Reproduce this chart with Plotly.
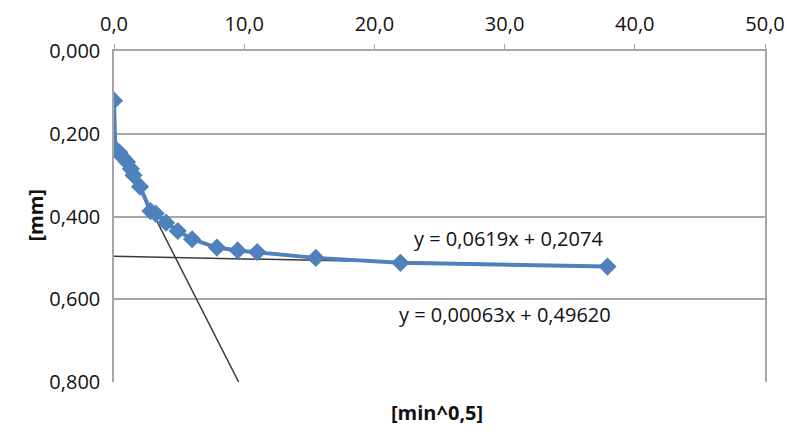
import plotly.graph_objects as go

# Measured data: x = [min^0,5], y = settlement [mm]
x_vals = [0.0, 0.1, 0.4, 0.7, 1.0, 1.3, 1.5, 2.0, 2.8, 3.2, 4.0, 4.9, 6.0, 7.9, 9.5, 11.0, 15.5, 22.0, 37.9]
y_vals = [0.120, 0.238, 0.245, 0.258, 0.268, 0.285, 0.300, 0.328, 0.387, 0.393, 0.415, 0.435, 0.455, 0.475, 0.482, 0.486, 0.500, 0.512, 0.521]

# Trend lines (from the equations shown on the chart)
steep_slope, steep_icpt = 0.0619, 0.2074
flat_slope, flat_icpt = 0.00063, 0.49620
steep_label = "y = 0,0619x + 0,2074"
flat_label = "y = 0,00063x + 0,49620"

x_ticks = [0, 10, 20, 30, 40, 50]
y_ticks = [0.0, 0.2, 0.4, 0.6, 0.8]

FONT = "Open Sans"
TXT = "#111111"
GRID = "#a6a6a6"

steep_x = [0.0, (0.8 - steep_icpt) / steep_slope]
steep_y = [steep_icpt + steep_slope * v for v in steep_x]
flat_x = [0.0, max(x_vals)]
flat_y = [flat_icpt + flat_slope * v for v in flat_x]

fig = go.Figure()
fig.add_trace(go.Scatter(x=steep_x, y=steep_y, mode="lines",
                         line=dict(color="#3a3a3a", width=1.5), showlegend=False))
fig.add_trace(go.Scatter(x=flat_x, y=flat_y, mode="lines",
                         line=dict(color="#3a3a3a", width=1.5), showlegend=False))
fig.add_trace(go.Scatter(x=x_vals, y=y_vals, mode="lines+markers",
                         line=dict(color="#4F81BD", width=4),
                         marker=dict(symbol="diamond", size=14, color="#4F81BD"),
                         showlegend=False))

fig.add_annotation(x=30.3, y=0.452, text=steep_label, showarrow=False,
                   font=dict(family=FONT, size=20, color=TXT))
fig.add_annotation(x=30.0, y=0.638, text=flat_label, showarrow=False,
                   font=dict(family=FONT, size=20, color=TXT))

fig.add_annotation(xref="paper", yref="paper", x=0.496, y=-0.14, text="<b>[min^0,5]</b>",
                   showarrow=False, font=dict(family=FONT, size=20, color=TXT))
fig.add_annotation(xref="paper", yref="paper", x=-0.144, y=0.505, text="<b>[mm]</b>",
                   textangle=-90, showarrow=False, font=dict(family=FONT, size=20, color=TXT))

fig.update_layout(
    width=787, height=441,
    margin=dict(l=114, r=22, t=51, b=59, autoexpand=False),
    paper_bgcolor="white", plot_bgcolor="white",
    separators=",.",
    font=dict(family=FONT, size=20, color=TXT),
    xaxis=dict(side="top", range=[0, 50], tickvals=x_ticks, tickformat=".1f",
               showgrid=False, zeroline=False, showline=True, linecolor=GRID, linewidth=1.5,
               ticks="outside", ticklen=5, tickcolor=GRID, mirror=False, automargin=False,
               ticklabelstandoff=5),
    yaxis=dict(range=[0.8, 0], tickvals=y_ticks, tickformat=".3f",
               showgrid=True, gridcolor=GRID, gridwidth=1.5, zeroline=False,
               showline=True, linecolor=GRID, linewidth=1.5, mirror=True, ticks="",
               automargin=False, ticklabelstandoff=8),
)

fig.write_html("out.html", config={"displayModeBar": False},
               post_script="document.body.style.margin='0px';document.body.style.overflow='hidden';")
